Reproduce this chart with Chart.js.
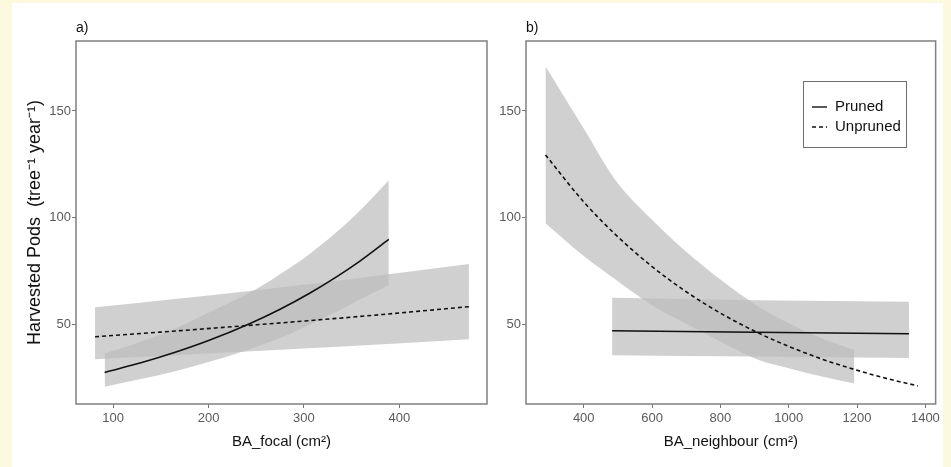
<!DOCTYPE html>
<html>
<head>
<meta charset="utf-8">
<script src="https://cdn.jsdelivr.net/npm/chart.js@4.4.1/dist/chart.umd.min.js"></script>
<style>
  body { margin: 0; background: #fcf9df; }
  #wrap { position: absolute; left: 12px; top: 3px; width: 931px; height: 464px; background: #fff; }
  .panel { position: absolute; top: 0; height: 464px; }
</style>
</head>
<body>
<div id="wrap">
  <div class="panel" style="left:0; width:488px;"><canvas id="chartA"></canvas></div>
  <div class="panel" style="left:488px; width:443px;"><canvas id="chartB"></canvas></div>
</div>
<script>
// tick labels
const focalTicks = [100, 200, 300, 400];
const neighbourTicks = [400, 600, 800, 1000, 1200, 1400];
const podTicks = [50, 100, 150];

// a) harvested pods vs BA_focal
const focalPrunedX = [91, 130, 165, 200, 243, 275, 306, 335, 358, 389];
const focalPrunedFit = [27.5, 32.1, 36.9, 42.4, 50.3, 57.1, 64.6, 72.5, 79.4, 89.8];
const focalPrunedUpper = [36.4, 42.0, 48.1, 55.5, 64.8, 73.5, 83.0, 93.5, 103.0, 117.6];
const focalPrunedLower = [20.8, 24.5, 28.1, 32.4, 38.4, 43.6, 50.0, 56.0, 61.5, 68.4];
const focalUnprunedX = [81, 150, 250, 350, 473];
const focalUnprunedFit = [44.2, 46.4, 49.8, 53.4, 58.3];
const focalUnprunedUpper = [58.0, 61.2, 66.0, 71.3, 78.3];
const focalUnprunedLower = [33.7, 35.2, 37.5, 39.9, 43.1];

// b) harvested pods vs BA_neighbour
const neighPrunedX = [483, 900, 1352];
const neighPrunedFit = [47.0, 46.3, 45.6];
const neighPrunedUpper = [62.5, 61.3, 60.6];
const neighPrunedLower = [35.6, 34.9, 34.3];
const neighUnprunedX = [288, 400, 493, 600, 700, 800, 912, 1000, 1100, 1192, 1290, 1378];
const neighUnprunedFit = [129.4, 107.4, 92.1, 77.1, 65.3, 55.3, 45.9, 39.7, 33.6, 28.9, 24.5, 21.2];
const neighBandX = [288, 400, 493, 600, 700, 800, 912, 1000, 1100, 1192];
const neighUnprunedUpper = [171.0, 141.8, 117.6, 99.0, 84.0, 71.0, 58.3, 50.5, 43.3, 38.0];
const neighUnprunedLower = [97.4, 82.0, 71.0, 59.0, 50.3, 42.0, 33.3, 29.5, 25.5, 22.3];

const FONT = "'Liberation Sans', Arial, sans-serif";
const BAND = 'rgba(188,188,188,0.7)';
const INK = '#111';

function pts(xs, ys) {
    return xs.map((x, i) => ({ x: x, y: ys[i] }));
}

function fitLine(xs, ys, dashed) {
    return {
        data: pts(xs, ys),
        borderColor: INK,
        borderWidth: 1.6,
        borderDash: dashed ? [4, 3] : [],
        pointRadius: 0,
        cubicInterpolationMode: 'monotone',
        fill: false,
        order: 0
    };
}

function band(xs, up, lo) {
    return [{
        data: pts(xs, up),
        borderWidth: 0,
        pointRadius: 0,
        backgroundColor: BAND,
        cubicInterpolationMode: 'monotone',
        fill: '+1',
        order: 1
    }, {
        data: pts(xs, lo),
        borderWidth: 0,
        pointRadius: 0,
        cubicInterpolationMode: 'monotone',
        fill: false,
        order: 1
    }];
}

// box round the plot area + panel tag + optional legend
const panelFrame = {
    id: 'panelFrame',
    afterDraw(chart, args, opts) {
        const ctx = chart.ctx;
        const a = chart.chartArea;
        ctx.save();
        ctx.strokeStyle = '#808080';
        ctx.lineWidth = 1.5;
        ctx.strokeRect(a.left, a.top, a.right - a.left, a.bottom - a.top);
        ctx.fillStyle = INK;
        ctx.font = '14px ' + FONT;
        ctx.textBaseline = 'alphabetic';
        ctx.textAlign = 'left';
        ctx.fillText(opts.tag, a.left, a.top - 9);

        if (opts.legend) {
            const bx = a.left + 277, by = a.top + 40;
            ctx.strokeStyle = '#6e6e6e';
            ctx.lineWidth = 1;
            ctx.strokeRect(bx + 0.5, by + 0.5, 103, 66);
            ctx.font = '15px ' + FONT;
            ctx.textBaseline = 'middle';
            opts.legend.forEach((item, i) => {
                const y = by + 26 + i * 20;
                ctx.strokeStyle = INK;
                ctx.lineWidth = 1.4;
                ctx.setLineDash(item.dash);
                ctx.beginPath();
                ctx.moveTo(bx + 9, y);
                ctx.lineTo(bx + 24, y);
                ctx.stroke();
                ctx.setLineDash([]);
                ctx.fillStyle = INK;
                ctx.fillText(item.label, bx + 32, y);
            });
        }
        ctx.restore();
    }
};

function axisX(min, max, ticks, label) {
    return {
        type: 'linear',
        min: min,
        max: max,
        afterFit: s => { s.height = 63; },
        afterBuildTicks: s => { s.ticks = ticks.map(v => ({ value: v })); },
        border: { display: false },
        grid: { drawOnChartArea: false, drawTicks: true, tickLength: 4, color: '#777' },
        ticks: { color: '#5a5a5a', font: { family: FONT, size: 13 }, padding: 3, maxRotation: 0, callback: v => String(v) },
        title: { display: true, text: label, color: INK, font: { family: FONT, size: 15 }, padding: { top: 0, bottom: 16 } }
    };
}

function axisY(width, label) {
    const ax = {
        min: 12.7,
        max: 182.8,
        afterFit: s => { s.width = width; },
        afterBuildTicks: s => { s.ticks = podTicks.map(v => ({ value: v })); },
        border: { display: false },
        grid: { drawOnChartArea: false, drawTicks: true, tickLength: 4, color: '#777' },
        ticks: { color: '#5a5a5a', font: { family: FONT, size: 13 }, padding: 1, callback: v => String(v) }
    };
    if (label) {
        ax.title = { display: true, text: label, color: INK, font: { family: FONT, size: 18 }, padding: { top: 12, bottom: 0 } };
    }
    return ax;
}

function baseOptions(pad) {
    return {
        responsive: true,
        maintainAspectRatio: false,
        animation: false,
        layout: { padding: pad },
        plugins: { legend: { display: false }, tooltip: { enabled: false } }
    };
}

const optsA = baseOptions({ left: 0, right: 13, top: 38, bottom: 0 });
optsA.scales = {
    x: axisX(61, 492, focalTicks, 'BA_focal (cm²)'),
    y: axisY(64, 'Harvested Pods  (tree⁻¹ year⁻¹)')
};
optsA.plugins.panelFrame = { tag: 'a)' };

new Chart(document.getElementById('chartA').getContext('2d'), {
    type: 'line',
    data: {
        datasets: [
            fitLine(focalPrunedX, focalPrunedFit, false),
            fitLine(focalUnprunedX, focalUnprunedFit, true),
            ...band(focalPrunedX, focalPrunedUpper, focalPrunedLower),
            ...band(focalUnprunedX, focalUnprunedUpper, focalUnprunedLower)
        ]
    },
    options: optsA,
    plugins: [panelFrame]
});

const optsB = baseOptions({ left: 0, right: 6, top: 38, bottom: 0 });
optsB.scales = {
    x: axisX(231, 1430, neighbourTicks, 'BA_neighbour (cm²)'),
    y: axisY(26, null)
};
optsB.plugins.panelFrame = {
    tag: 'b)',
    legend: [
        { label: 'Pruned', dash: [] },
        { label: 'Unpruned', dash: [4, 3] }
    ]
};

new Chart(document.getElementById('chartB').getContext('2d'), {
    type: 'line',
    data: {
        datasets: [
            fitLine(neighPrunedX, neighPrunedFit, false),
            fitLine(neighUnprunedX, neighUnprunedFit, true),
            ...band(neighPrunedX, neighPrunedUpper, neighPrunedLower),
            ...band(neighBandX, neighUnprunedUpper, neighUnprunedLower)
        ]
    },
    options: optsB,
    plugins: [panelFrame]
});
</script>
</body>
</html>
